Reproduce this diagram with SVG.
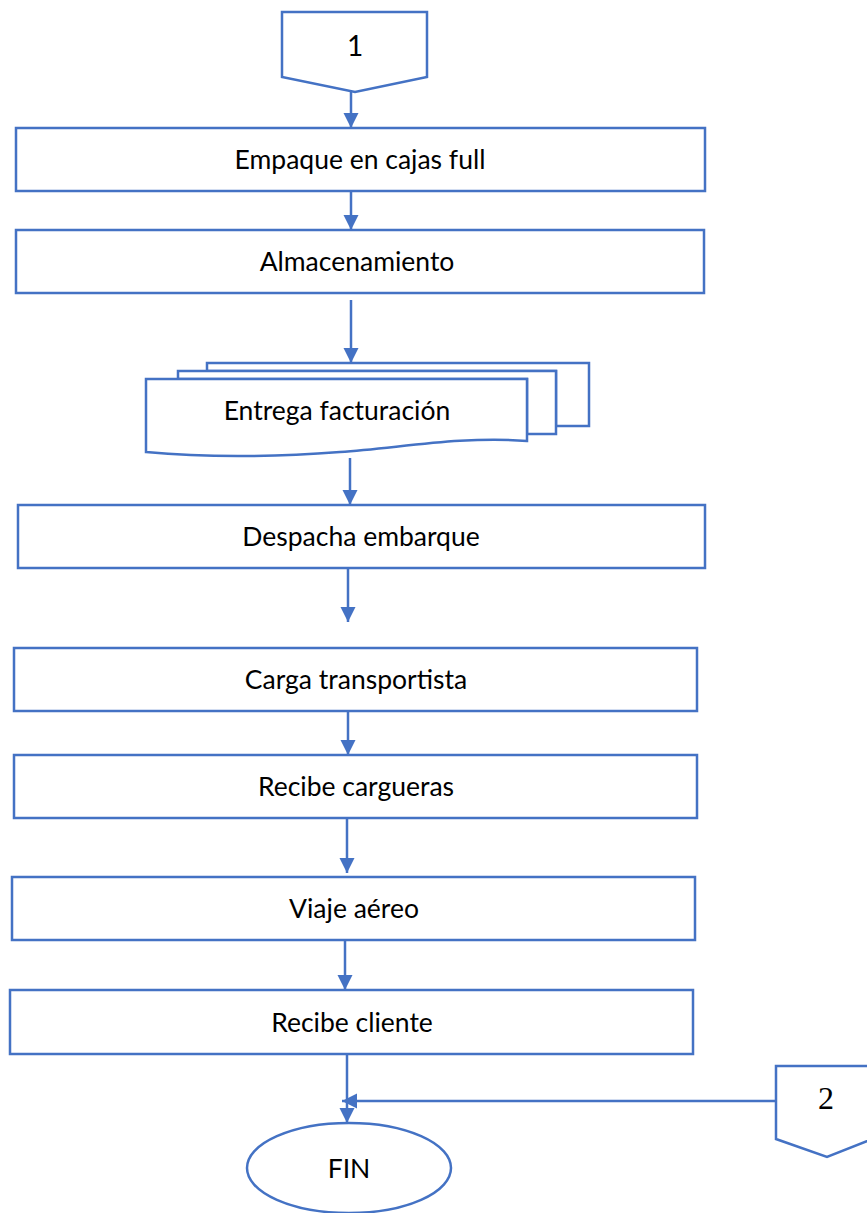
<svg xmlns="http://www.w3.org/2000/svg" width="867" height="1213" viewBox="0 0 867 1213">
  <style>
    .shape { fill: #ffffff; stroke: #4472C4; stroke-width: 2.5; }
    .conn { fill: none; stroke: #4472C4; stroke-width: 2.5; }
    .lbl { font-family: "Lato", "Liberation Sans", sans-serif; font-size: 26.5px; fill: #000000; text-anchor: middle; dominant-baseline: central; }
    .num { font-family: "Liberation Serif", serif; font-size: 32px; fill: #000000; text-anchor: middle; dominant-baseline: central; }
  </style>
  <defs>
    <marker id="arrow" viewBox="0 0 10 10" refX="10" refY="5" markerWidth="6" markerHeight="6.4" markerUnits="strokeWidth" orient="auto">
      <path d="M0,0 L10,5 L0,10 Z" fill="#4472C4"/>
    </marker>
  </defs>
  <rect width="867" height="1213" fill="#ffffff"/>

  <!-- connectors -->
  <g id="connectors">
    <line class="conn" x1="351" y1="92" x2="351" y2="128" marker-end="url(#arrow)"/>
    <line class="conn" x1="351" y1="192" x2="351" y2="230" marker-end="url(#arrow)"/>
    <line class="conn" x1="351" y1="300" x2="351" y2="363" marker-end="url(#arrow)"/>
    <line class="conn" x1="350" y1="458" x2="350" y2="505" marker-end="url(#arrow)"/>
    <line class="conn" x1="348" y1="568" x2="348" y2="622" marker-end="url(#arrow)"/>
    <line class="conn" x1="348" y1="711" x2="348" y2="755" marker-end="url(#arrow)"/>
    <line class="conn" x1="347" y1="818" x2="347" y2="873" marker-end="url(#arrow)"/>
    <line class="conn" x1="345" y1="940" x2="345" y2="990" marker-end="url(#arrow)"/>
    <line class="conn" x1="347" y1="1054" x2="347" y2="1123" marker-end="url(#arrow)"/>
    <line class="conn" x1="777" y1="1101" x2="342" y2="1101" marker-end="url(#arrow)"/>
  </g>

  <!-- off-page connector 1 -->
  <g id="conn-1">
    <path class="shape" d="M282,12 L427,12 L427,77 L355,92 L282,77 Z"/>
    <text class="lbl" x="355" y="45" style="font-size: 28px;">1</text>
  </g>

  <g id="empaque">
    <rect class="shape" x="16" y="128" width="689" height="63"/>
    <text class="lbl" x="360" y="159">Empaque en cajas full</text>
  </g>

  <g id="almacenamiento">
    <rect class="shape" x="16" y="230" width="688" height="63"/>
    <text class="lbl" x="357" y="261">Almacenamiento</text>
  </g>

  <!-- multi-document -->
  <g id="entrega-facturacion">
    <path class="shape" d="M207,363 L589,363 L589,426 L556,426 L556,371 L207,371 Z"/>
    <path class="shape" d="M178,371 L556,371 L556,434 L527,434 L527,379 L178,379 Z"/>
    <path class="shape" d="M146,379 L527,379 L527,441 C460,436 400,448 340,452 C260,458 200,457 146,452 Z"/>
    <text class="lbl" x="337" y="410">Entrega facturación</text>
  </g>

  <g id="despacha">
    <rect class="shape" x="18" y="505" width="687" height="63"/>
    <text class="lbl" x="361" y="536">Despacha embarque</text>
  </g>

  <g id="carga">
    <rect class="shape" x="14" y="648" width="683" height="63"/>
    <text class="lbl" x="356" y="679">Carga transportista</text>
  </g>

  <g id="recibe-cargueras">
    <rect class="shape" x="14" y="755" width="683" height="63"/>
    <text class="lbl" x="356" y="786">Recibe cargueras</text>
  </g>

  <g id="viaje">
    <rect class="shape" x="12" y="877" width="683" height="63"/>
    <text class="lbl" x="354" y="908">Viaje aéreo</text>
  </g>

  <g id="recibe-cliente">
    <rect class="shape" x="10" y="990" width="683" height="64"/>
    <text class="lbl" x="352" y="1022">Recibe cliente</text>
  </g>

  <g id="fin">
    <ellipse class="shape" cx="349" cy="1168" rx="102" ry="45"/>
    <text class="lbl" x="349" y="1168">FIN</text>
  </g>

  <!-- off-page connector 2 -->
  <g id="conn-2">
    <path class="shape" d="M776,1066 L880,1066 L880,1136 L827,1157 L776,1139 Z"/>
    <text class="num" x="826" y="1098">2</text>
  </g>
</svg>
